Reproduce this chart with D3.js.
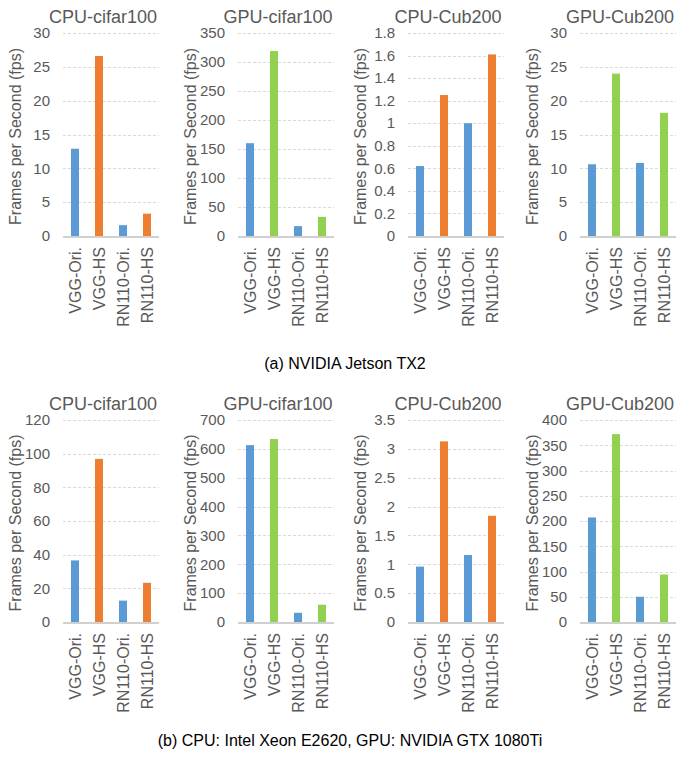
<!DOCTYPE html>
<html>
<head>
<meta charset="utf-8">
<script src="https://cdn.jsdelivr.net/npm/d3@7"></script>
<style>
  body { margin: 0; background: #fff; }
  svg { font-family: "Liberation Sans", Arial, sans-serif; }
</style>
</head>
<body>
<svg id="chart" width="679" height="764"></svg>
<script>
// categories and panel titles
var categories = ["VGG-Ori.", "VGG-HS", "RN110-Ori.", "RN110-HS"];
var panelTitles = ["CPU-cifar100", "GPU-cifar100", "CPU-Cub200", "GPU-Cub200"];

// (a) NVIDIA Jetson TX2
var tx2CpuCifar = [12.9, 26.6, 1.6, 3.3];
var tx2GpuCifar = [160, 319, 17, 33];
var tx2CpuCub = [0.62, 1.25, 1.0, 1.61];
var tx2GpuCub = [10.6, 24.0, 10.8, 18.2];
var tx2Max = [30, 350, 1.8, 30];
var tx2Step = [5, 50, 0.2, 5];

// (b) Xeon E2620 / GTX 1080Ti
var srvCpuCifar = [36.6, 96.9, 12.7, 23.3];
var srvGpuCifar = [613, 634, 32, 60];
var srvCpuCub = [0.96, 3.13, 1.16, 1.84];
var srvGpuCub = [207, 372, 50, 94];
var srvMax = [120, 700, 3.5, 400];
var srvStep = [20, 100, 0.5, 50];

var captions = ["(a) NVIDIA Jetson TX2", "(b) CPU: Intel Xeon E2620, GPU: NVIDIA GTX 1080Ti"];

var blue = "#5B9BD5", orange = "#ED7D31", green = "#92D050", textGray = "#595959";

var svg = d3.select("#chart");

var colLeft = [63, 238, 408, 580],
    plotW = 96;

var rows = [
    { top: 33, base: 236, titleY: 23, values: [tx2CpuCifar, tx2GpuCifar, tx2CpuCub, tx2GpuCub], max: tx2Max, step: tx2Step },
    { top: 420, base: 622, titleY: 410, values: [srvCpuCifar, srvGpuCifar, srvCpuCub, srvGpuCub], max: srvMax, step: srvStep }
];

rows.forEach(function (row) {
    row.values.forEach(function (vals, c) {
        var left = colLeft[c];
        var hsColor = panelTitles[c].indexOf("GPU") === 0 ? green : orange;

        var x = d3.scaleBand().domain(categories).range([left, left + plotW])
            .paddingInner(2 / 3).paddingOuter(1 / 3);
        var y = d3.scaleLinear().domain([0, row.max[c]]).range([row.base, row.top]);

        var nTicks = Math.round(row.max[c] / row.step[c]);
        var ticks = d3.range(0, nTicks + 1).map(function (i) {
            return +(i * row.step[c]).toFixed(3);
        });

        var g = svg.append("g");

        // dashed gridlines
        g.selectAll(".grid")
            .data(ticks.slice(1))
            .enter().append("line")
            .attr("x1", left)
            .attr("x2", left + plotW)
            .attr("y1", function (d) { return Math.round(y(d)) + 0.5; })
            .attr("y2", function (d) { return Math.round(y(d)) + 0.5; })
            .attr("stroke", "#d9d9d9")
            .attr("stroke-width", 1)
            .attr("stroke-dasharray", "3,2");

        // tick labels
        g.selectAll(".tick")
            .data(ticks)
            .enter().append("text")
            .attr("x", left - 13)
            .attr("y", function (d) { return y(d); })
            .attr("dy", "0.35em")
            .attr("text-anchor", "end")
            .attr("fill", textGray)
            .style("font-size", "15px")
            .text(function (d) { return "" + d; });

        // bars
        g.selectAll(".bar")
            .data(vals)
            .enter().append("rect")
            .attr("x", function (d, i) { return x(categories[i]); })
            .attr("y", function (d) { return y(d); })
            .attr("width", x.bandwidth())
            .attr("height", function (d) { return row.base - y(d); })
            .attr("fill", function (d, i) { return i % 2 === 0 ? blue : hsColor; });

        // baseline
        g.append("line")
            .attr("x1", left)
            .attr("x2", left + plotW)
            .attr("y1", row.base + 1)
            .attr("y2", row.base + 1)
            .attr("stroke", "#d0d0d0")
            .attr("stroke-width", 2);

        // category labels
        g.selectAll(".cat")
            .data(categories)
            .enter().append("text")
            .attr("transform", function (d) {
                return "translate(" + (x(d) + x.bandwidth() / 2) + "," + (row.base + 11) + ") rotate(-90)";
            })
            .attr("dy", "0.35em")
            .attr("text-anchor", "end")
            .attr("fill", textGray)
            .style("font-size", "16px")
            .text(function (d) { return d; });

        // y axis title
        g.append("text")
            .attr("transform", "translate(" + (left - 48) + "," + ((row.top + row.base) / 2 + 2) + ") rotate(-90)")
            .attr("dy", "0.35em")
            .attr("text-anchor", "middle")
            .attr("fill", textGray)
            .style("font-size", "16px")
            .text("Frames per Second (fps)");

        // panel title
        g.append("text")
            .attr("x", left + 40)
            .attr("y", row.titleY)
            .attr("text-anchor", "middle")
            .attr("fill", textGray)
            .style("font-size", "18px")
            .text(panelTitles[c]);
    });
});

svg.append("text")
    .attr("x", 345)
    .attr("y", 369)
    .attr("text-anchor", "middle")
    .style("font-size", "16px")
    .text(captions[0]);

svg.append("text")
    .attr("x", 350)
    .attr("y", 746)
    .attr("text-anchor", "middle")
    .style("font-size", "16px")
    .text(captions[1]);
</script>
</body>
</html>
